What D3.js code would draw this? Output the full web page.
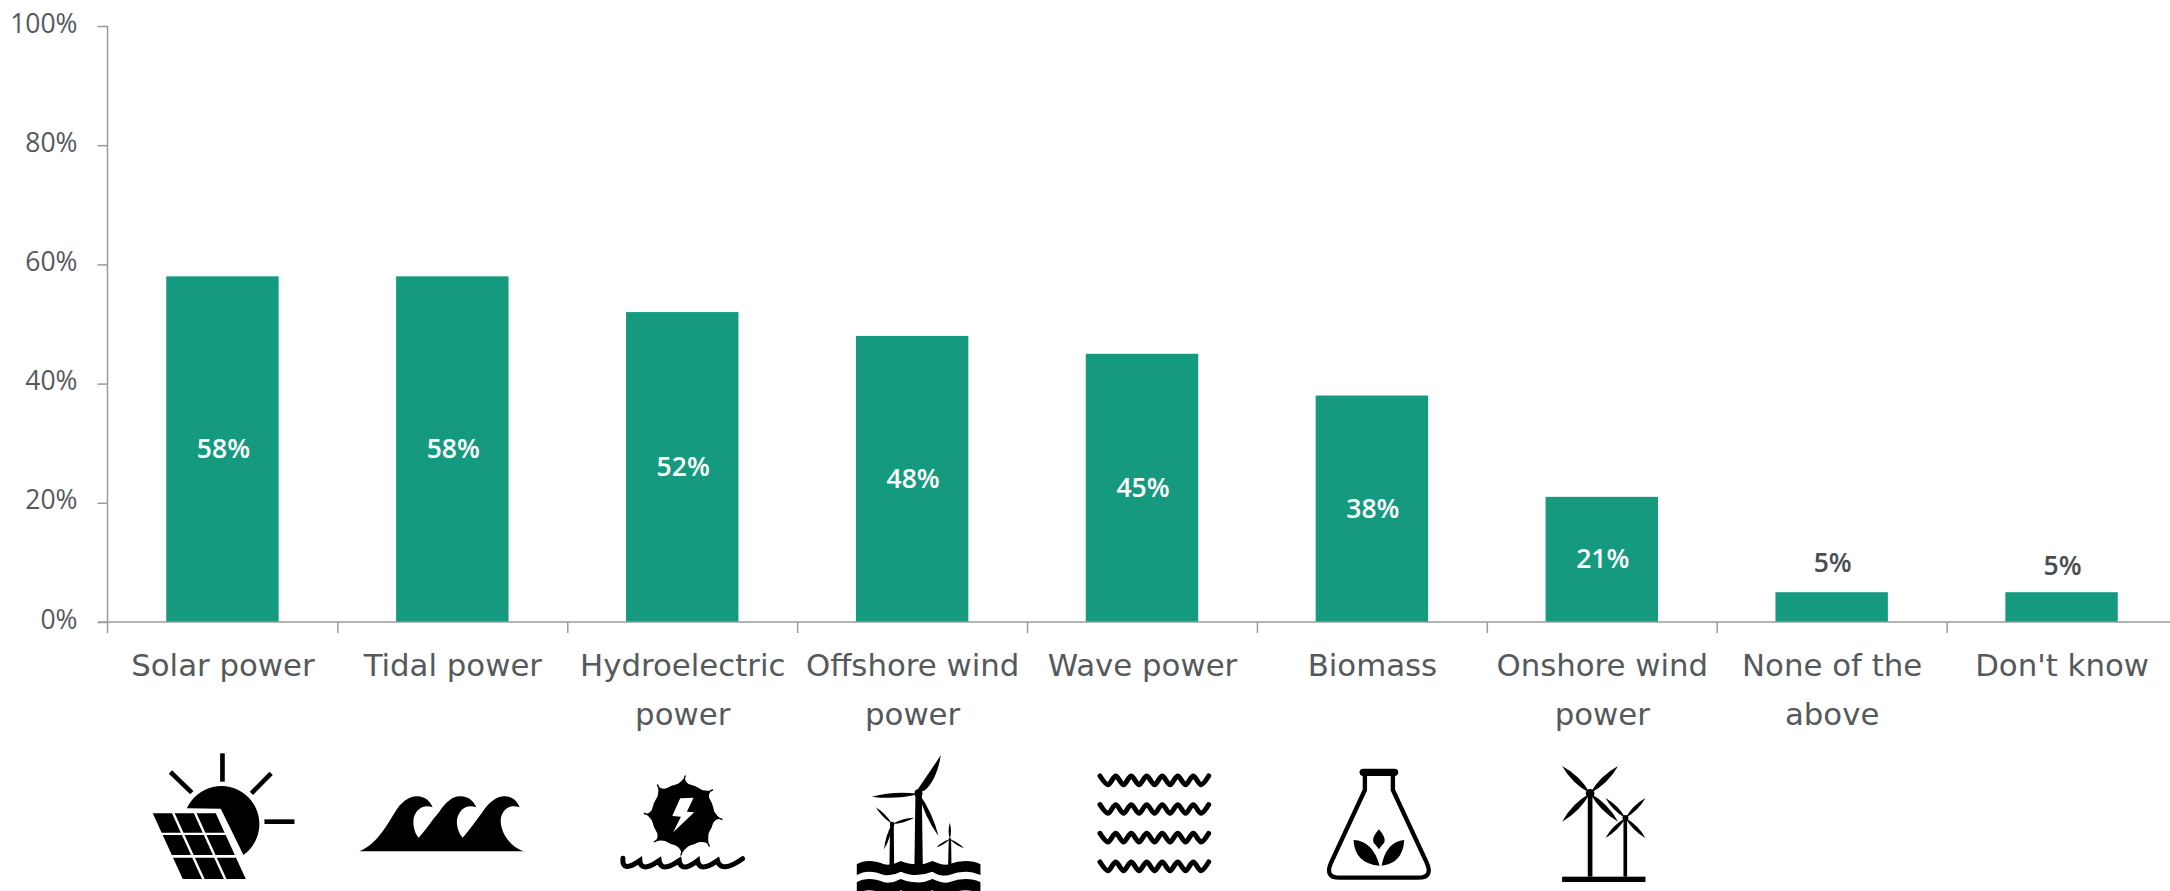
<!DOCTYPE html>
<html><head><meta charset="utf-8">
<script src="https://cdn.jsdelivr.net/npm/d3@7/dist/d3.min.js"></script>
<style>html,body{margin:0;padding:0;background:#fff;overflow:hidden}svg{display:block}</style>
</head><body><svg id="c" width="2170" height="891"></svg>
<script>
const categoryLines = [["Solar power"],["Tidal power"],["Hydroelectric","power"],["Offshore wind","power"],["Wave power"],["Biomass"],["Onshore wind","power"],["None of the","above"],["Don't know"]];
const categories = categoryLines.map(l => l.join(" "));
const values = [58,58,52,48,45,38,21,5,5];
const yTicks = [0,20,40,60,80,100];

const svg = d3.select("#c");
const BAR = "#159a80", AXIS = "#9b9b9b", TEXT = "#55595c";
const pad = 0.511;
const x = d3.scaleBand().domain(categories).range([107.5, 2176.5]).paddingInner(pad).paddingOuter(pad/2);
const y = d3.scaleLinear().domain([0,100]).range([622, 26]);
const edge = d3.scaleLinear().domain([0, categories.length]).range([107.5, 2176.5]);

// bars
svg.append("g").selectAll("rect").data(values).join("rect")
  .attr("x",(d,i)=>x(categories[i])).attr("width",x.bandwidth())
  .attr("y",d=>y(d)).attr("height",d=>y(0)-y(d)).attr("fill",BAR);

// y axis
const gy = svg.append("g").attr("transform","translate(107.5,0)")
  .call(d3.axisLeft(y).tickValues(yTicks).tickSize(10).tickPadding(20).tickFormat(d=>d+"%"));
gy.select(".domain").attr("stroke",AXIS).attr("stroke-width",1.5).attr("d","M0,26V633");
gy.selectAll("line").attr("stroke",AXIS).attr("stroke-width",1.5);
gy.selectAll("text").attr("fill",TEXT).attr("font-family","'Open Sans'").attr("font-size",26.5).attr("dy","0.23em");

// x axis
const gx = svg.append("g").attr("transform","translate(0,622)")
  .call(d3.axisBottom(edge).tickValues(d3.range(1,categories.length)).tickSize(11).tickFormat(""));
gx.select(".domain").attr("stroke",AXIS).attr("stroke-width",1.5).attr("d","M98,0H2170");
gx.selectAll("line").attr("stroke",AXIS).attr("stroke-width",1.5);

// category labels
const lab = svg.append("g").attr("font-family","'DejaVu Sans'").attr("font-size",30.8).attr("fill",TEXT).attr("text-anchor","middle");
categoryLines.forEach((lines,i)=>{
  lines.forEach((t,k)=>{
    lab.append("text").attr("x",x(categories[i])+x.bandwidth()/2+0.5).attr("y",676+k*49).text(t);
  });
});

// value labels
const labelNudge = [0,0,0,0,0,0,0,0,3];
svg.append("g").attr("font-family","'Open Sans'").attr("font-weight",600).attr("font-size",26.5).attr("text-anchor","middle")
  .selectAll("text").data(values).join("text")
  .attr("x",(d,i)=>x(categories[i])+x.bandwidth()/2+1)
  .attr("y",(d,i)=> d>10 ? (y(d)+y(0))/2+9 : y(d)-20+labelNudge[i])
  .attr("fill",d=>d>10?"#fff":"#4a4e51")
  .text(d=>d+"%");

// ---- pictograms (decoration, authored at 3x inside a group) ----
function icon(i, cx, oy=0){
  const c = x(categories[i])+x.bandwidth()/2;
  return svg.append("g").attr("transform",`translate(${c},730) scale(${1/3}) translate(${-cx},${oy})`);
}
function lens(x0,y0,x1,y1,w){
  const mx=(x0+x1)/2,my=(y0+y1)/2,dx=x1-x0,dy=y1-y0,L=Math.hypot(dx,dy),nx=-dy/L*w,ny=dx/L*w;
  return `M${x0},${y0}Q${mx+nx},${my+ny} ${x1},${y1}Q${mx-nx},${my-ny} ${x0},${y0}Z`;
}
// solar
{
  const g = icon(0,369);
  [[369,70,369,155],[213,126,277,188],[515,130,456,190],[495,275,585,275]].forEach(r=>
    g.append("line").attr("x1",r[0]).attr("y1",r[1]).attr("x2",r[2]).attr("y2",r[3]).attr("stroke","#000").attr("stroke-width",14));
  g.append("path").attr("d","M262,235A114,114 0 1 1 432,375L364,236Z");
  const rows=[[250,308],[315,375],[383,447]], k=90/197, cw=197/3;
  rows.forEach(r=>{ for(let c=0;c<3;c++){
    const xl=160+c*cw, xr=xl+cw-8, a=(r[0]-250)*k, b=(r[1]-250)*k;
    g.append("path").attr("d",`M${xl+a},${r[0]}L${xr+a},${r[0]}L${xr+b},${r[1]}L${xl+b},${r[1]}Z`);
  }});
}
// tidal
icon(1,1059).append("path").attr("d","M780,364C830,345 860,290 885,250C905,215 930,198 955,199C975,200 992,212 1000,232C975,222 950,235 943,265C940,290 947,310 958,323C985,292 1000,268 1020,245C1040,215 1062,197 1085,199C1107,200 1122,212 1131,232C1105,222 1080,235 1073,268C1071,290 1078,310 1090,323C1110,300 1130,272 1150,245C1170,215 1195,197 1218,199C1240,200 1253,212 1261,232C1235,222 1208,235 1204,270C1204,315 1240,355 1275,364Z");
// hydro
{
  const g = icon(2,249);
  const tips=[[258,138],[340,180],[368,268],[330,348],[245,375],[165,335],[135,250],[175,165]];
  g.append("circle").attr("cx",251).attr("cy",255).attr("r",94);
  tips.forEach(t=>{
    const a=Math.atan2(t[1]-255,t[0]-251), s=0.36, R=88;
    const p=(an)=>[251+R*Math.cos(an),255+R*Math.sin(an)];
    const A=p(a-s), B=p(a+s);
    g.append("path").attr("stroke","#000").attr("stroke-width",4).attr("stroke-linejoin","round")
      .attr("d",`M${A}Q${t[0]-14*Math.cos(a)},${t[1]-14*Math.sin(a)} ${t}Q${t[0]-22*Math.cos(a+.5)},${t[1]-22*Math.sin(a+.5)} ${B}Z`);
  });
  g.append("path").attr("fill","#fff").attr("d","M243,205L283,203L263,245L285,247L222,307L245,260L219,258Z");
  g.append("path").attr("fill","none").attr("stroke","#000").attr("stroke-width",15).attr("stroke-linecap","round")
    .attr("d","M71,385Q68,430 122,392Q125,430 180,392Q185,430 240,392Q245,430 295,392Q300,430 355,392Q365,432 430,386");
}
// offshore wind
{
  const g = icon(3,939);
  g.append("path").attr("d","M949,190L968,190L971,405L946,405Z");
  g.append("path").attr("d","M948,190L1025,76C1020,110 1005,160 975,182Z");
  g.append("path").attr("d",lens(958,192,818,200,14));
  g.append("path").attr("d",lens(958,188,1018,318,14));
  g.append("circle").attr("cx",958).attr("cy",190).attr("r",12);
  g.append("path").attr("d","M873,282L884,282L885,405L871,405Z");
  g.append("path").attr("d",lens(879,282,830,232,8));
  g.append("path").attr("d",lens(879,282,945,263,9));
  g.append("path").attr("d",lens(879,282,855,358,9));
  g.append("circle").attr("cx",879).attr("cy",282).attr("r",7);
  g.append("path").attr("d","M1049,325L1056,325L1057,405L1047,405Z");
  g.append("path").attr("d",lens(1052,328,1052,278,7));
  g.append("path").attr("d",lens(1052,328,1012,352,6));
  g.append("path").attr("d",lens(1052,328,1095,355,6));
  const band=(o,h)=>`M773,${o+10}Q790,${o} 810,${o}Q830,${o} 855,${o+10}Q880,${o+14} 905,${o}Q930,${o+10} 950,${o+10}Q975,${o+12} 1000,${o}Q1030,${o+14} 1050,${o+10}Q1075,${o} 1100,${o}Q1125,${o} 1144,${o+10}V${o+h}Q1120,${o+h-10} 1100,${o+h-10}Q1075,${o+h-10} 1050,${o+h}Q1025,${o+h+6} 1000,${o+h-10}Q975,${o+h} 950,${o+h}Q930,${o+h} 905,${o+h-10}Q880,${o+h+4} 855,${o+h}Q830,${o+h-10} 810,${o+h-10}Q790,${o+h-10} 773,${o+h}Z`;
  g.append("path").attr("d",band(393,42));
  g.append("path").attr("d",band(447,44));
}
// wave power
{
  const g = icon(4,246,60);
  const ln = d3.line().curve(d3.curveCardinal.tension(0.1));
  [91,177,263,349].forEach(r=>{
    const pts=[[120,r-13]];
    for(let k=0;k<7;k++){ pts.push([144+46.5*k,r+13]); pts.push([167+46.5*k,r-13]); }
    g.append("path").attr("fill","none").attr("stroke","#000").attr("stroke-width",15).attr("stroke-linecap","round").attr("d",ln(pts.filter(p=>p[0]<455)));
  });
}
// biomass
{
  const g = icon(5,369);
  g.append("path").attr("fill","none").attr("stroke","#000").attr("stroke-width",13)
    .attr("d","M348,135V180L248,395Q225,443 272,443H508Q555,443 532,395L432,180V135");
  g.append("rect").attr("x",332).attr("y",116).attr("width",116).attr("height",22).attr("rx",11);
  g.append("path").attr("d","M390,298Q412,322 406,338Q396,348 390,358Q384,348 374,338Q368,322 390,298Z");
  g.append("path").attr("d","M314,330Q372,333 392,407Q318,402 314,330Z");
  g.append("path").attr("d","M466,330Q412,335 398,407Q462,400 466,330Z");
}
// onshore wind
{
  const g = icon(6,1059);
  g.append("rect").attr("x",940).attr("y",440).attr("width",250).attr("height",16);
  g.append("rect").attr("x",1017).attr("y",190).attr("width",14).attr("height",250);
  g.append("rect").attr("x",1124).attr("y",262).attr("width",11).attr("height",178);
  [[940,108],[1108,108],[940,275],[1108,275]].forEach(t=>g.append("path").attr("d",lens(1024,190,t[0],t[1],17)));
  g.append("circle").attr("cx",1024).attr("cy",190).attr("r",13);
  [[1070,204],[1190,204],[1070,324],[1190,324]].forEach(t=>g.append("path").attr("d",lens(1130,264,t[0],t[1],12)));
  g.append("circle").attr("cx",1130).attr("cy",264).attr("r",9);
}
</script></body></html>
